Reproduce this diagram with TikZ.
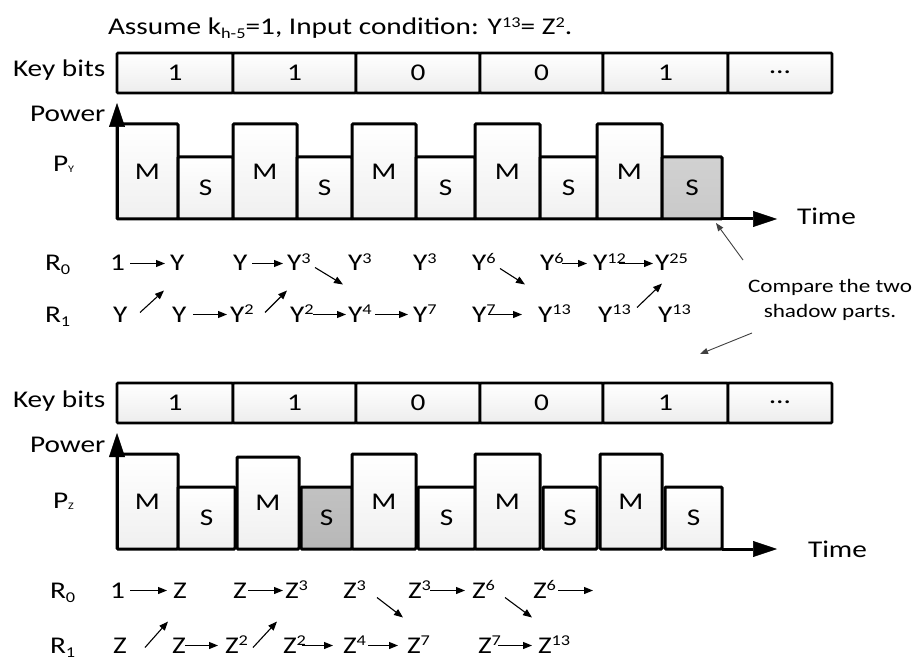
\documentclass[tikz,border=0pt]{standalone}
\usepackage{fontspec}
\setmainfont{Carlito}[FakeStretch=1.22]
\usetikzlibrary{arrows.meta}
\newcommand\mysup[1]{\raisebox{7.5pt}{\fontsize{15pt}{15pt}\selectfont #1}}
\newcommand\mysub[1]{\raisebox{-4pt}{\fontsize{15pt}{15pt}\selectfont #1}}
\newcommand\tinysub[1]{\raisebox{-1pt}{\fontsize{10pt}{10pt}\selectfont #1}}
\begin{document}
\begin{tikzpicture}[x=1pt,y=-1pt,
 every node/.style={font=\fontsize{24pt}{28pt}\selectfont, inner sep=0pt, outer sep=0pt},
 cell/.style={draw, line width=2.6pt, rounded corners=1pt, top color=white, bottom color=gray!14, minimum height=40pt, text height=15pt, text depth=0pt, anchor=north west},
 bar/.style={draw, line width=3pt, rounded corners=1pt, top color=white, bottom color=gray!12, anchor=south west},
 barM/.style={bar, minimum height=95pt},
 barS/.style={bar, minimum height=62pt},
 dark/.style={top color=gray!36, bottom color=gray!42},
 txt/.style={anchor=base west},
 rv/.style={anchor=base west, text height=15pt, text depth=0pt},
 ra/.style={line width=1.1pt, -{Triangle[length=9pt,width=7pt]}},
 an/.style={line width=0.9pt, draw=black!75, -{Triangle[length=8pt,width=6pt]}},
 ax/.style={line width=3pt, -{Triangle[length=24pt,width=16pt,line width=0.5pt]}},
]
\useasboundingbox (0,0) rectangle (915,660);

% title
\node[txt] (title) at (108,35) {Assume k\mysub{h-5}=1, Input condition: Y\mysup{13}= Z\mysup{2}.};

% ===== top block =====
\node[txt] (kbY) at (13,77) {Key bits};
\node[cell, minimum width=116pt] (kY1) at (117,53) {1};
\node[cell, minimum width=123pt] (kY2) at (233,53) {1};
\node[cell, minimum width=124pt] (kY3) at (356,53) {0};
\node[cell, minimum width=123pt] (kY4) at (480,53) {0};
\node[cell, minimum width=125pt] (kY5) at (603,53) {1};
\node[cell, minimum width=104pt] (kY6) at (728,53) {\raisebox{7pt}{…}};

\node[txt] (pwY) at (30,122) {Power};
\node[txt] (pyY) at (53,172) {P\tinysub{Y}};

\node[barM, minimum width=61pt] (yM1) at (117,219) {M};
\node[barS, minimum width=55pt] (yS1) at (178,219) {S};
\node[barM, minimum width=64pt] (yM2) at (233,219) {M};
\node[barS, minimum width=55pt] (yS2) at (297,219) {S};
\node[barM, minimum width=64pt] (yM3) at (352,219) {M};
\node[barS, minimum width=59pt] (yS3) at (416,219) {S};
\node[barM, minimum width=65pt] (yM4) at (475,219) {M};
\node[barS, minimum width=57pt] (yS4) at (540,219) {S};
\node[barM, minimum width=65pt] (yM5) at (597,219) {M};
\node[barS, dark, minimum width=60pt] (yS5) at (662,219) {S};

\coordinate (oY) at (117,219);
\coordinate (pY) at (117,103);
\coordinate (tY) at (777,219);
\draw[ax] (oY) -- (pY);
\draw[ax] (yS5.south east) -- (tY);
\node[txt] (tmY) at (797,225) {Time};

% R rows (top)
\node[rv] (r0Y) at (45,271) {R\mysub{0}};
\node[rv] (r1Y) at (45,322) {R\mysub{1}};

\node[rv] (a1) at (110,271) {1};
\node[rv] (a2) at (170,271) {Y};
\node[rv] (a3) at (233,271) {Y};
\node[rv] (a4) at (287,271) {Y\mysup{3}};
\node[rv] (a5) at (348,271) {Y\mysup{3}};
\node[rv] (a6) at (413,271) {Y\mysup{3}};
\node[rv] (a7) at (472,271) {Y\mysup{6}};
\node[rv] (a8) at (540,271) {Y\mysup{6}};
\node[rv] (a9) at (593,271) {Y\mysup{12}};
\node[rv] (a10) at (655,271) {Y\mysup{25}};

\node[rv] (b1) at (113,322) {Y};
\node[rv] (b2) at (172,322) {Y};
\node[rv] (b3) at (230,322) {Y\mysup{2}};
\node[rv] (b4) at (290,322) {Y\mysup{2}};
\node[rv] (b5) at (348,322) {Y\mysup{4}};
\node[rv] (b6) at (413,322) {Y\mysup{7}};
\node[rv] (b7) at (472,322) {Y\mysup{7}};
\node[rv] (b8) at (538,322) {Y\mysup{13}};
\node[rv] (b9) at (598,322) {Y\mysup{13}};
\node[rv] (b10) at (658,322) {Y\mysup{13}};

\draw[ra] ([xshift=20pt]a1.west) -- ([xshift=-5pt]a2.west);
\draw[ra] ([xshift=19pt]a3.west) -- ([xshift=-4pt]a4.west);
\draw[ra] ([xshift=22pt]a8.west) -- ([xshift=-6pt]a9.west);
\draw[ra] ([xshift=26pt]a9.west) -- ([xshift=-2pt]a10.west);
\draw[ra] ([xshift=21pt]b2.west) -- ([xshift=-3pt]b3.west);
\draw[ra] ([xshift=23pt]b4.west) -- ([xshift=-2pt]b5.west);
\draw[ra] ([xshift=27pt]b5.west) -- ([xshift=-5pt]b6.west);
\draw[ra] ([xshift=16pt]b7.west) -- ([xshift=-16pt]b8.west);

\draw[ra] ([shift={(27,-2)}]b1.west) -- ([shift={(-6,27)}]a2.west);
\draw[ra] ([shift={(35,-2)}]b3.west) -- ([shift={(0,27)}]a4.west);
\draw[ra] ([shift={(28,4)}]a4.west) -- ([shift={(-5,-30)}]b5.west);
\draw[ra] ([shift={(28,5)}]a7.west) -- ([shift={(-13,-30)}]b8.west);
\draw[ra] ([shift={(39,-7)}]b9.west) -- ([shift={(7,20)}]a10.west);

% annotation
\node[font=\fontsize{19pt}{25pt}\selectfont, align=center] (cmp) at (830,300) {Compare the two\\shadow parts.};
\coordinate (q1) at (743,260);
\draw[an] (q1) -- ([shift={(-6,4)}]yS5.south east);
\coordinate (q2) at (752,333);
\coordinate (q3) at (700,354);
\draw[an] (q2) -- (q3);

% ===== bottom block =====
\node[txt] (kbZ) at (13,407) {Key bits};
\node[cell, minimum width=116pt] (kZ1) at (117,383) {1};
\node[cell, minimum width=123pt] (kZ2) at (233,383) {1};
\node[cell, minimum width=124pt] (kZ3) at (356,383) {0};
\node[cell, minimum width=123pt] (kZ4) at (480,383) {0};
\node[cell, minimum width=125pt] (kZ5) at (603,383) {1};
\node[cell, minimum width=104pt] (kZ6) at (728,383) {\raisebox{7pt}{…}};

\node[txt] (pwZ) at (30,452) {Power};
\node[txt] (pzZ) at (53,508) {P\tinysub{Z}};

\node[barM, minimum width=61pt] (zM1) at (117,549) {M};
\node[barS, minimum width=57pt] (zS1) at (178,549) {S};
\node[barM, minimum width=62pt, minimum height=92pt] (zM2) at (237,549) {M};
\node[barS, dark, top color=gray!48, bottom color=gray!56, minimum width=51pt] (zS2) at (301,549) {S};
\node[barM, minimum width=64pt] (zM3) at (352,549) {M};
\node[barS, minimum width=57pt] (zS3) at (418,549) {S};
\node[barM, minimum width=65pt] (zM4) at (475,549) {M};
\node[barS, minimum width=54pt] (zS4) at (543,549) {S};
\node[barM, minimum width=62pt] (zM5) at (600,549) {M};
\node[barS, minimum width=57pt] (zS5) at (665,549) {S};

\coordinate (oZ) at (117,549);
\coordinate (pZ) at (117,433);
\coordinate (tZ) at (777,549);
\draw[ax] (oZ) -- (pZ);
\draw[ax] (zS5.south east) -- (tZ);
\node[txt] (tmZ) at (808,557) {Time};

% R rows (bottom)
\node[rv] (r0Z) at (50,598) {R\mysub{0}};
\node[rv] (r1Z) at (50,653) {R\mysub{1}};

\node[rv] (c1) at (110,598) {1};
\node[rv] (c2) at (173,598) {Z};
\node[rv] (c3) at (233,598) {Z};
\node[rv] (c4) at (285,598) {Z\mysup{3}};
\node[rv] (c5) at (343,598) {Z\mysup{3}};
\node[rv] (c6) at (408,598) {Z\mysup{3}};
\node[rv] (c7) at (472,598) {Z\mysup{6}};
\node[rv] (c8) at (533,598) {Z\mysup{6}};
\coordinate (c9) at (593,590.5);

\node[rv] (d1) at (113,653) {Z};
\node[rv] (d2) at (172,653) {Z};
\node[rv] (d3) at (225,653) {Z\mysup{2}};
\node[rv] (d4) at (283,653) {Z\mysup{2}};
\node[rv] (d5) at (343,653) {Z\mysup{4}};
\node[rv] (d6) at (407,653) {Z\mysup{7}};
\node[rv] (d7) at (478,653) {Z\mysup{7}};
\node[rv] (d8) at (538,653) {Z\mysup{13}};

\draw[ra] ([xshift=20pt]c1.west) -- ([xshift=-6pt]c2.west);
\draw[ra] ([xshift=15pt]c3.west) -- ([xshift=-2pt]c4.west);
\draw[ra] ([xshift=22pt]c6.west) -- ([xshift=-7pt]c7.west);
\draw[ra] ([xshift=25pt]c8.west) -- (c9);
\draw[ra] ([xshift=13pt]d2.west) -- ([xshift=-7pt]d3.west);
\draw[ra] ([xshift=19pt]d4.west) -- ([xshift=-10pt]d5.west);
\draw[ra] ([xshift=25pt]d5.west) -- ([xshift=-9pt]d6.west);
\draw[ra] ([xshift=20pt]d7.west) -- ([xshift=-6pt]d8.west);

\draw[ra] ([shift={(32,2)}]d1.west) -- ([shift={(-5,31)}]c2.west);
\draw[ra] ([shift={(28,2)}]d3.west) -- ([shift={(-8,31)}]c4.west);
\draw[ra] ([shift={(34,7)}]c5.west) -- ([shift={(-4,-28)}]d6.west);
\draw[ra] ([shift={(33,7)}]c7.west) -- ([shift={(-6,-28)}]d8.west);
\end{tikzpicture}
\end{document}
